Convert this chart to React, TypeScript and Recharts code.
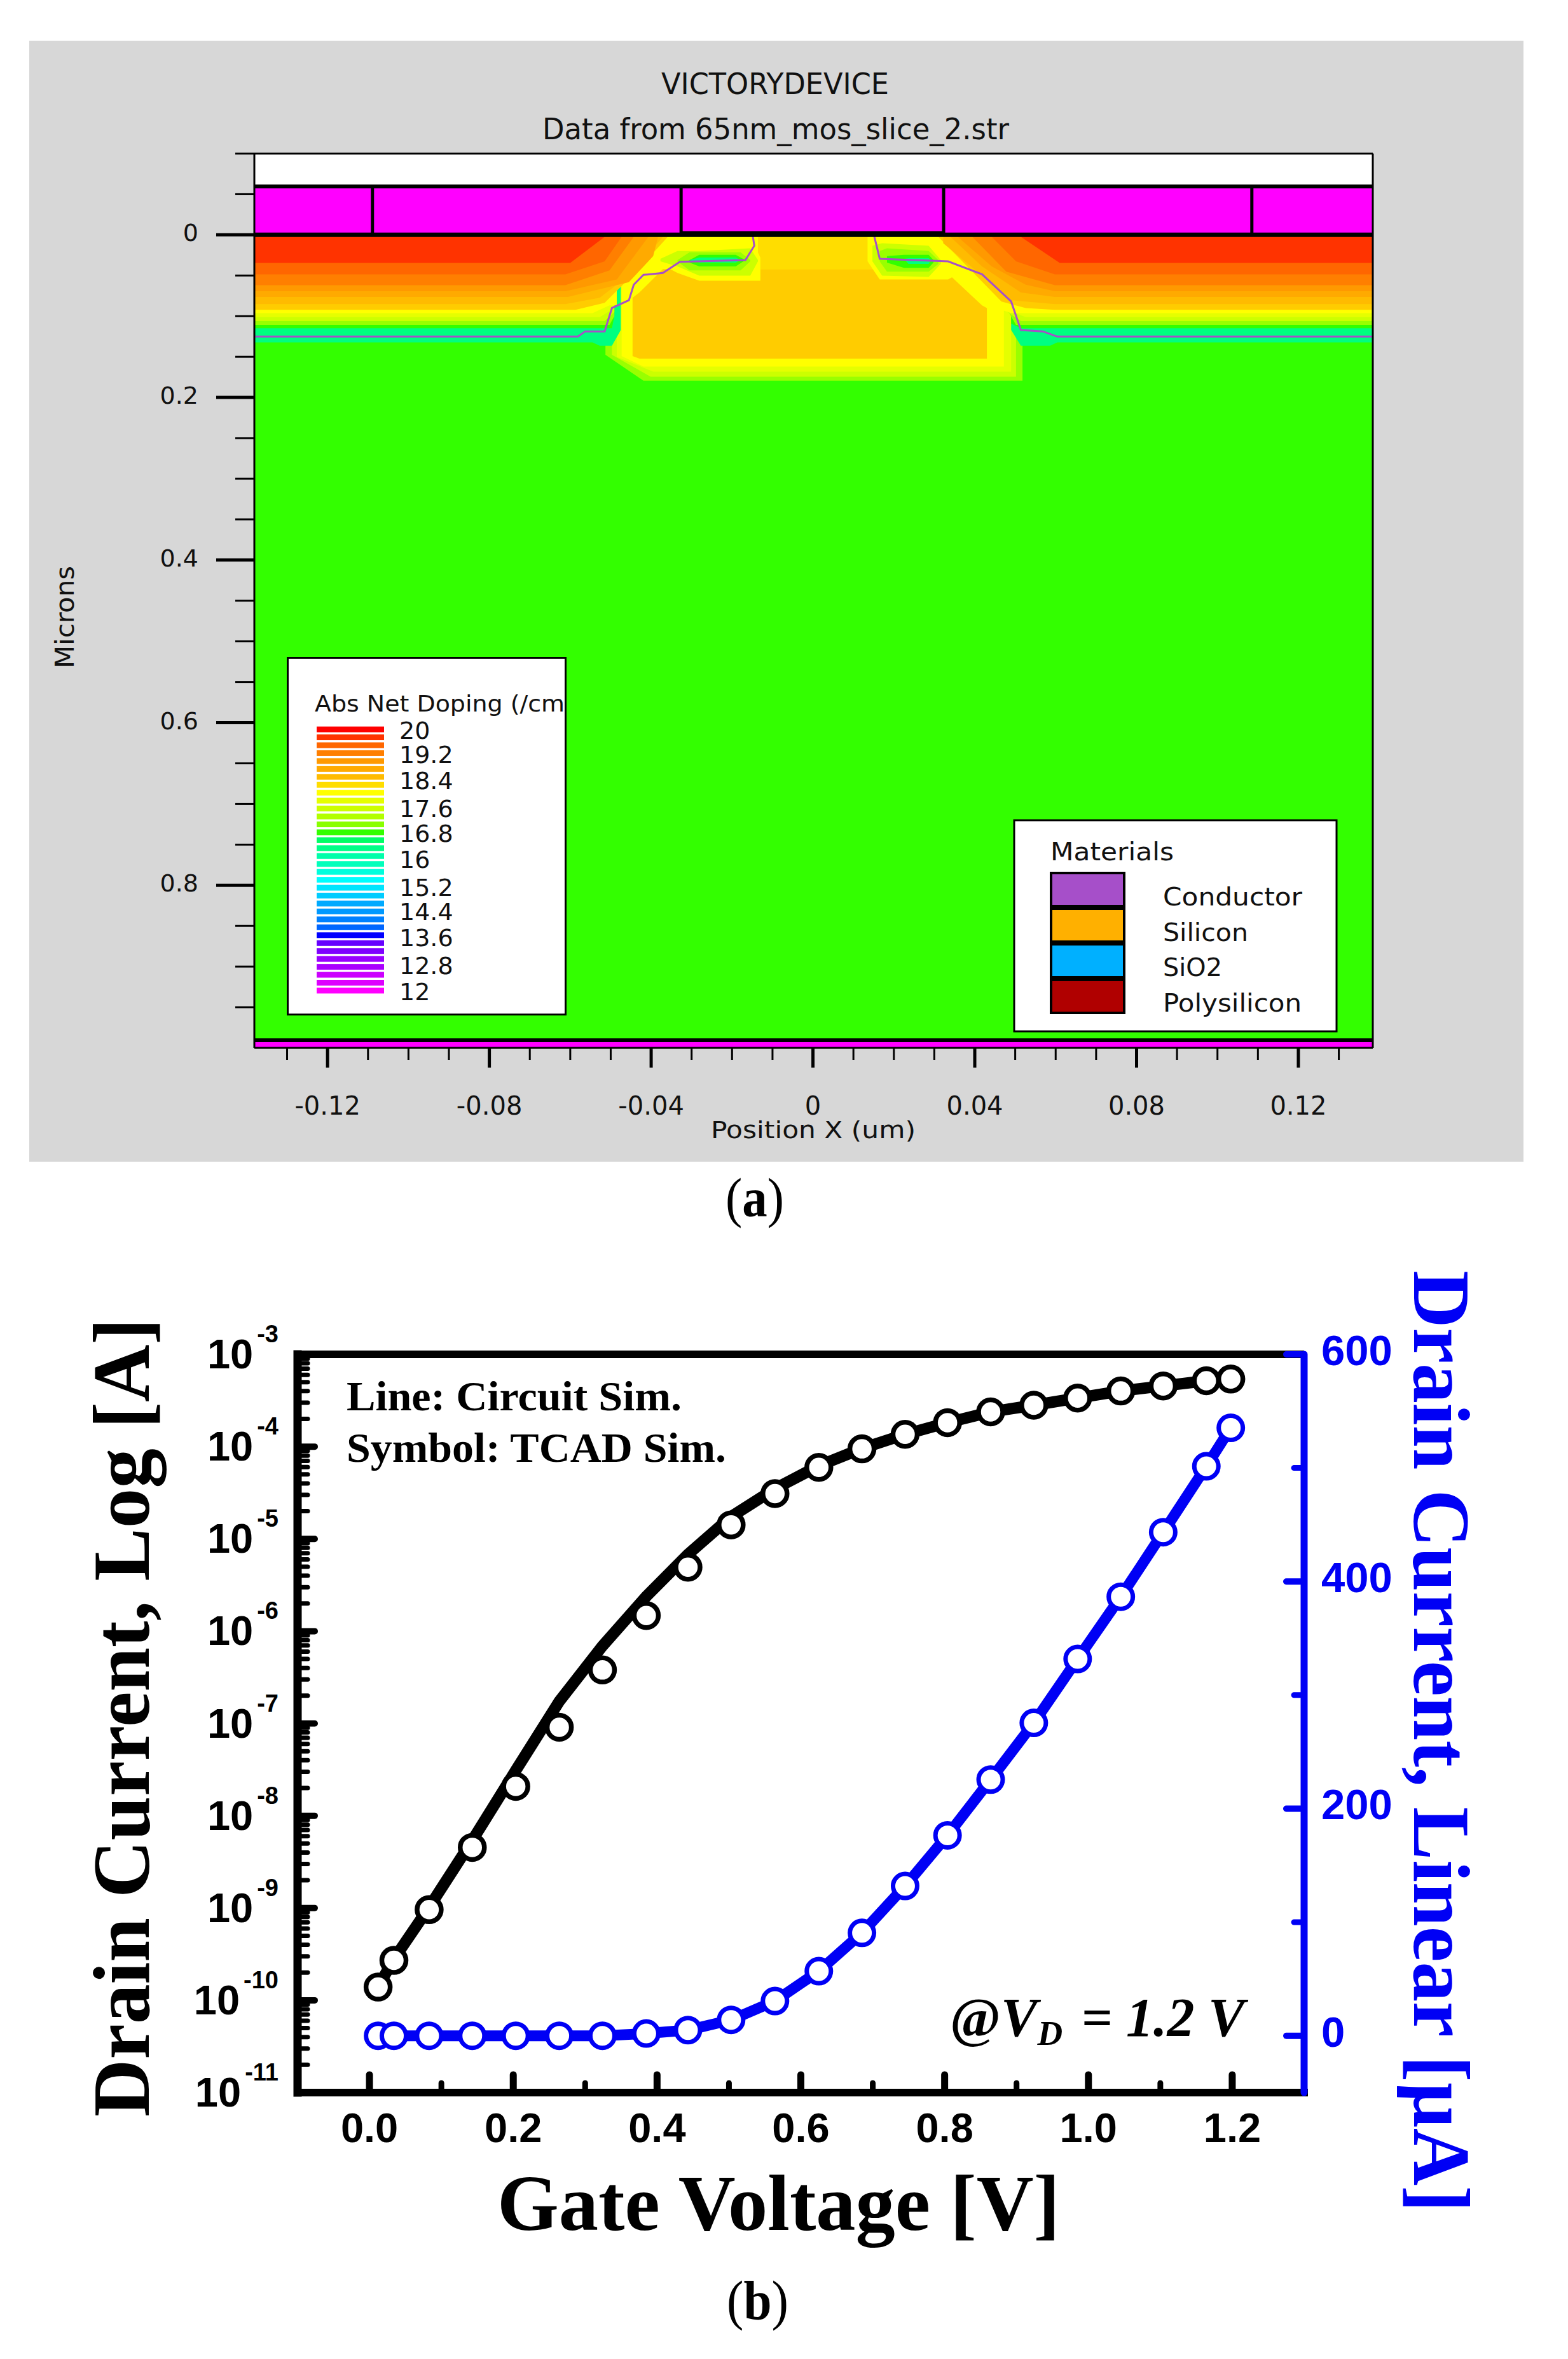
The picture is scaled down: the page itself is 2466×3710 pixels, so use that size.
import React from 'react';
import { ComposedChart, Area, Line, XAxis, YAxis, ReferenceArea, ReferenceLine } from 'recharts';

// ---- (a) doping map: contour bands as [x um, upper depth um, lower depth um]
type Pt = [number, number, number];
const S = 0.0025; // just under the oxide
const XL = -0.1381;
const XR = 0.1384;

const haloColors = ['#33ff00', '#99ff00', '#ccff00', '#e5ff00', '#ffff00'];
const haloBands: Pt[][] = [
  [[XL, 0, 0.99], [XR, 0, 0.99]],
  [[-0.0513, S, 0.1475], [-0.0419, S, 0.1794], [0.0518, S, 0.1794]],
  [[-0.0497, S, 0.1475], [-0.0401, S, 0.1746], [0.0502, S, 0.1746]],
  [[-0.0485, S, 0.15], [-0.0395, S, 0.1683], [0.049, S, 0.1683]],
  [[-0.0473, S, 0.1491], [-0.0419, S, 0.1619], [0.0472, S, 0.1619]],
];

const sourceColors = ['#00ff80', '#33ff00', '#99ff00', '#ccff00', '#e5ff00', '#ffff00', '#ffcc00', '#ffbb00', '#ffaa00', '#ff9900', '#ff7f00', '#ff6600', '#ff3300'];
const sourceBands: Pt[][] = [
  [[XL, S, 0.1322], [-0.0545, S, 0.1322], [-0.0527, S, 0.1363], [-0.0497, S, 0.1363], [-0.0475, S, 0.1171], [-0.0475, S, 0.1]],
  [[XL, S, 0.1149], [-0.0497, S, 0.1149], [-0.0491, S, 0.1]],
  [[XL, S, 0.1108], [-0.0503, S, 0.1108], [-0.0491, S, 0.1]],
  [[XL, S, 0.106], [-0.0515, S, 0.106], [-0.0491, S, 0.095]],
  [[XL, S, 0.1012], [-0.0527, S, 0.1012], [-0.0491, S, 0.09]],
  [[XL, S, 0.0964], [-0.0545, S, 0.0964], [-0.0503, S, 0.0868], [-0.0485, S, 0.0868]],
  [[XL, S, 0.0922], [-0.0587, S, 0.0922], [-0.0515, S, 0.0836], [-0.0431, S, 0.0421], [-0.0359, S, S]],
  [[XL, S, 0.0852], [-0.0612, S, 0.0852], [-0.0527, S, 0.0773], [-0.0443, S, 0.0453], [-0.0371, S, S]],
  [[XL, S, 0.0763], [-0.0606, S, 0.0763], [-0.0455, S, 0.0581], [-0.0395, S, 0.0262], [-0.0383, S, S]],
  [[XL, S, 0.0693], [-0.0612, S, 0.0693], [-0.0485, S, 0.0549], [-0.0407, S, S]],
  [[XL, S, 0.0619], [-0.0612, S, 0.0619], [-0.0503, S, 0.0437], [-0.0443, S, S]],
  [[XL, S, 0.0485], [-0.0612, S, 0.0485], [-0.0515, S, 0.0326], [-0.0473, S, S]],
  [[XL, S, 0.0345], [-0.06, S, 0.0345], [-0.0515, S, S]],
];
const drainBands: Pt[][] = [
  [[0.049, S, 0.1171], [0.0514, S, 0.1363], [0.0586, S, 0.1363], [0.0604, S, 0.1322], [XR, S, 0.1322]],
  [[0.049, S, 0.1092], [0.0514, S, 0.1149], [XR, S, 0.1149]],
  [[0.0478, S, 0.09], [0.0502, S, 0.1108], [XR, S, 0.1108]],
  [[0.0466, S, 0.09], [0.0514, S, 0.106], [XR, S, 0.106]],
  [[0.0454, S, 0.088], [0.0526, S, 0.1012], [XR, S, 0.1012]],
  [[0.0436, S, 0.09], [0.0454, S, 0.09], [0.049, S, 0.0964], [XR, S, 0.0964]],
  [[0.031, S, S], [0.0394, S, 0.0453], [0.0466, S, 0.082], [0.0526, S, 0.09], [0.0598, S, 0.0922], [XR, S, 0.0922]],
  [[0.0322, S, 0.0102], [0.0406, S, 0.0453], [0.049, S, 0.0804], [0.0598, S, 0.0852], [XR, S, 0.0852]],
  [[0.034, S, S], [0.0418, S, 0.0389], [0.0514, S, 0.0709], [0.0598, S, 0.0763], [XR, S, 0.0763]],
  [[0.0358, S, S], [0.0442, S, 0.0389], [0.0526, S, 0.0613], [0.0598, S, 0.0693], [XR, S, 0.0693]],
  [[0.0394, S, S], [0.0478, S, 0.0453], [0.0598, S, 0.0619], [XR, S, 0.0619]],
  [[0.0442, S, S], [0.0502, S, 0.0326], [0.0598, S, 0.0485], [XR, S, 0.0485]],
  [[0.0514, S, S], [0.061, S, 0.0345], [XR, S, 0.0345]],
];

const channelColors = ['#ffcc00', '#ffdd00'];
const channelBands: Pt[][] = [
  [[-0.0446, 0.0773, 0.1491], [-0.0429, 0.0709, 0.1523], [-0.0371, 0.0421, 0.1523], [0.0322, 0.0421, 0.1523], [0.0418, 0.0868, 0.1523], [0.043, 0.09, 0.1523]],
  [[-0.0136, S, 0.0421], [0.0147, S, 0.0421]],
];

const pocketColors = ['#ffff00', '#ccff00', '#99ff00', '#33ff00', '#00ff80'];
const pocketLeft: Pt[][] = [
  [[-0.0389, 0.0294, 0.0326], [-0.0335, 0.0134, 0.0469], [-0.0281, 0.0102, 0.0565], [-0.0155, S, 0.0565], [-0.013, 0.0278, 0.0565]],
  [[-0.0377, 0.0294, 0.0326], [-0.0335, 0.0198, 0.0389], [-0.0281, 0.0198, 0.0501], [-0.0155, 0.0166, 0.0501], [-0.0136, 0.031, 0.0326]],
  [[-0.0335, 0.031, 0.0326], [-0.0305, 0.0214, 0.0437], [-0.0179, 0.0214, 0.0437], [-0.0155, 0.031, 0.0326]],
  [[-0.0311, 0.0326, 0.033], [-0.0281, 0.0246, 0.0389], [-0.0191, 0.0246, 0.0389], [-0.0167, 0.031, 0.031]],
  [[-0.0305, 0.031, 0.031], [-0.0281, 0.0278, 0.0342], [-0.0191, 0.0278, 0.0342], [-0.0179, 0.031, 0.031]],
];
const pocketRight: Pt[][] = [
  [[0.0135, S, 0.0326], [0.0165, S, 0.0549], [0.0286, S, 0.0549], [0.0334, 0.0326, 0.0549], [0.0352, 0.0469, 0.05]],
  [[0.0147, 0.0134, 0.0326], [0.0171, 0.0102, 0.0501], [0.0286, 0.0134, 0.0517], [0.0316, 0.031, 0.0357]],
  [[0.0165, 0.0198, 0.0326], [0.0183, 0.0166, 0.0453], [0.0286, 0.0198, 0.0453], [0.031, 0.031, 0.0357]],
  [[0.0183, 0.0262, 0.0342], [0.0225, 0.0246, 0.0405], [0.0286, 0.0246, 0.0405], [0.0298, 0.031, 0.034]],
  [[0.0225, 0.0294, 0.0294], [0.0236, 0.0287, 0.0357], [0.0286, 0.0287, 0.0357], [0.0292, 0.031, 0.031]],
];

const junctionLeft = [[XL, 0.1251], [-0.0581, 0.1251], [-0.0563, 0.1187], [-0.0515, 0.1187], [-0.0497, 0.09], [-0.0455, 0.0804], [-0.0443, 0.0613], [-0.0419, 0.0492], [-0.0371, 0.0469], [-0.0329, 0.0332], [-0.0167, 0.031], [-0.0145, 0.0134], [-0.0149, 0.0006]];
const junctionRight = [[0.0151, 0.0006], [0.0165, 0.0294], [0.0334, 0.0326], [0.0418, 0.0485], [0.049, 0.082], [0.0514, 0.1171], [0.0568, 0.1187], [0.0604, 0.1251], [XR, 0.1251]];

const contactEdges = [-0.1089, -0.0326, 0.0323, 0.1085];
const mapXTicks = [-0.13, -0.12, -0.11, -0.1, -0.09, -0.08, -0.07, -0.06, -0.05, -0.04, -0.03, -0.02, -0.01, 0, 0.01, 0.02, 0.03, 0.04, 0.05, 0.06, 0.07, 0.08, 0.09, 0.1, 0.11, 0.12, 0.13];
const mapXLabels: Record<string, string> = { '-0.12': '-0.12', '-0.08': '-0.08', '-0.04': '-0.04', '0': '0', '0.04': '0.04', '0.08': '0.08', '0.12': '0.12' };
const mapYTicks = [-0.1, -0.05, 0, 0.05, 0.1, 0.15, 0.2, 0.25, 0.3, 0.35, 0.4, 0.45, 0.5, 0.55, 0.6, 0.65, 0.7, 0.75, 0.8, 0.85, 0.9, 0.95];
const mapYLabels: Record<string, string> = { '0': '0', '0.2': '0.2', '0.4': '0.4', '0.6': '0.6', '0.8': '0.8' };

const dopingSwatches = ['#ff0000', '#ff3300', '#ff6600', '#ff7f00', '#ff9900', '#ffaa00', '#ffbb00', '#ffdd00', '#ffff00', '#e5ff00', '#ccff00', '#b2ff00', '#88ff00', '#33ff00', '#00ff66', '#00ff88', '#00ffaa', '#00ffbb', '#00ffdd', '#00ffff', '#00e5ff', '#00ccff', '#00aaff', '#0099ff', '#0080ff', '#0066ff', '#0000ff', '#6600ff', '#7f00ff', '#9900ff', '#aa00ff', '#cc00ff', '#dd00ff', '#ff00ff'];
const dopingLabels = ['20', '19.2', '18.4', '17.6', '16.8', '16', '15.2', '14.4', '13.6', '12.8', '12'];
const dopingLabelY = [1162, 1200, 1241, 1285, 1324, 1365, 1409, 1447, 1488, 1532, 1573];
const materialNames = ['Conductor', 'Silicon', 'SiO2', 'Polysilicon'];
const materialWidths = [219, 134, 93, 218];
const materialColors = ['#a64fc9', '#ffb000', '#00b0ff', '#b00000'];

// ---- (b) transfer curves
const gateV = [0.012, 0.034, 0.083, 0.143, 0.2035, 0.264, 0.324, 0.385, 0.443, 0.503, 0.564, 0.625, 0.685, 0.745, 0.804, 0.864, 0.924, 0.985, 1.045, 1.104, 1.164, 1.198];
const logTcad = [1.39e-10, 2.71e-10, 9.6e-10, 4.54e-9, 2.08e-8, 9.1e-8, 3.8e-7, 1.48e-6, 4.94e-6, 1.42e-5, 3.1e-5, 5.96e-5, 9.46e-5, 1.36e-4, 1.82e-4, 2.38e-4, 2.81e-4, 3.36e-4, 4.01e-4, 4.55e-4, 5.18e-4, 5.4e-4];
const logCircuit = [1.4e-10, 2.8e-10, 1.02e-9, 5.4e-9, 3.1e-8, 1.74e-7, 6.9e-7, 2.38e-6, 6.8e-6, 1.74e-5, 3.5e-5, 6.2e-5, 9.55e-5, 1.36e-4, 1.82e-4, 2.38e-4, 2.81e-4, 3.36e-4, 4.01e-4, 4.55e-4, 5.18e-4, 5.4e-4];
const linTcad = [0, 0, 0, 0, 0, 0, 0, 2, 5, 14, 30.6, 56.9, 90.6, 131.9, 176.5, 225.6, 275.5, 331.8, 386.6, 443.4, 501.4, 535.3];
const linCircuit = [0, 0, 0, 0, 0, 0, 0, 2, 5, 14, 30.6, 56.9, 90.6, 131.9, 176.5, 225.6, 275.5, 331.8, 386.6, 443.4, 501.4, 535.3];

const gateTicks = [0, 0.1, 0.2, 0.3, 0.4, 0.5, 0.6, 0.7, 0.8, 0.9, 1, 1.1, 1.2];
const gateLabels: Record<string, string> = { '0': '0.0', '0.2': '0.2', '0.4': '0.4', '0.6': '0.6', '0.8': '0.8', '1': '1.0', '1.2': '1.2' };
const decades = [-11, -10, -9, -8, -7, -6, -5, -4];
const logMajor = [...decades, -3].map((e) => Number(`1e${e}`));
const logMinor = decades.flatMap((e) => [2, 3, 4, 5, 6, 7, 8, 9].map((m) => Number(`${m}e${e}`)));
const linTicks = [0, 100, 200, 300, 400, 500, 600];

const curveRows = gateV.map((v, i) => ({ v, logTcad: logTcad[i], logCircuit: logCircuit[i], linTcad: linTcad[i], linCircuit: linCircuit[i] }));

const SANS = '"DejaVu Sans", sans-serif';
const SERIF = '"Liberation Serif", serif';
const ARIAL = '"Liberation Sans", sans-serif';
const BLUE = '#0000f5';

const toRows = (pts: Pt[]) => pts.map(([x, lo, hi]) => ({ x, band: [lo, hi] }));
const toLine = (pts: number[][]) => pts.map(([x, d]) => ({ x, d }));

const bandArea = (pts: Pt[], color: string, key: string) => (
  <Area key={key} data={toRows(pts)} dataKey="band" type="linear" fill={color} fillOpacity={1} stroke="none" dot={false} activeDot={false} isAnimationActive={false} />
);

const MapXTick = ({ x, y, payload }: any) => {
  const label = mapXLabels[String(payload.value)];
  return (
    <g>
      <line x1={x} x2={x} y1={y} y2={y + (label ? 31 : 19)} stroke="#000" strokeWidth={label ? 5 : 3} />
      {label && <text x={x} y={y + 105} textAnchor="middle" fontFamily={SANS} fontSize={40} fill="#111">{label}</text>}
    </g>
  );
};

const MapYTick = ({ x, y, payload }: any) => {
  const label = mapYLabels[String(payload.value)];
  return (
    <g>
      <line x1={x - (label ? 60 : 30)} x2={x} y1={y} y2={y} stroke="#000" strokeWidth={label ? 5 : 3} />
      {label && <text x={x - 88} y={y + 10} textAnchor="end" fontFamily={SANS} fontSize={38} fill="#111">{label}</text>}
    </g>
  );
};

const GateTick = ({ x, y, payload }: any) => {
  const label = gateLabels[String(payload.value)];
  return (
    <g>
      <line x1={x} x2={x} y1={y - 6} y2={y - (label ? 28 : 15)} stroke="#000" strokeWidth={label ? 11 : 9} strokeLinecap="round" />
      {label && <text x={x} y={y + 78} textAnchor="middle" fontFamily={ARIAL} fontWeight={700} fontSize={65} fill="#000">{label}</text>}
    </g>
  );
};

const LogTick = ({ x, y, payload }: any) => {
  const exp = Math.log10(payload.value);
  const major = Math.abs(exp - Math.round(exp)) < 1e-6;
  return (
    <g>
      <line x1={x + 6} x2={x + (major ? 27 : 16)} y1={y} y2={y} stroke="#000" strokeWidth={major ? 10 : 7} strokeLinecap="round" />
      {major && (
        <text x={x - 30} y={y + 22} textAnchor="end" fontFamily={ARIAL} fontWeight={700} fontSize={65} fill="#000">
          10<tspan dx={6} dy={-41} fontSize={38}>{Math.round(exp)}</tspan>
        </text>
      )}
    </g>
  );
};

const LinTick = ({ x, y, payload }: any) => {
  const major = payload.value % 200 === 0;
  return (
    <g>
      <line x1={x - 5} x2={x - (major ? 28 : 16)} y1={y} y2={y} stroke={BLUE} strokeWidth={major ? 10 : 9} strokeLinecap="round" />
      {major && <text x={x + 27} y={y + 17} fontFamily={ARIAL} fontWeight={700} fontSize={67} fill={BLUE}>{payload.value}</text>}
    </g>
  );
};

function DopingMap() {
  return (
    <ComposedChart width={2350} height={1763} margin={{ top: 177.5, right: 237, bottom: 0, left: 0 }} style={{ position: 'absolute', left: 46, top: 64 }}>
      <XAxis type="number" dataKey="x" domain={[XL, XR]} ticks={mapXTicks} interval={0} height={179} allowDataOverflow tickSize={0} tickMargin={0} tick={MapXTick} axisLine={{ stroke: '#000', strokeWidth: 3 }} />
      <YAxis type="number" reversed domain={[-0.1, 1]} ticks={mapYTicks} interval={0} width={354} allowDataOverflow tickSize={0} tickMargin={0} tick={MapYTick} axisLine={{ stroke: '#000', strokeWidth: 3 }} />
      <ReferenceArea x1={XL} x2={XR} y1={-0.1} y2={-0.0595} fill="#fff" fillOpacity={1} stroke="none" />
      <ReferenceArea x1={XL} x2={XR} y1={-0.0595} y2={0} fill="#ff00ff" fillOpacity={1} stroke="none" />
      <ReferenceArea x1={XL} x2={XR} y1={0.99} y2={1} fill="#ff00ff" fillOpacity={1} stroke="none" />
      {haloBands.map((b, i) => bandArea(b, haloColors[i], `halo${i}`))}
      {sourceBands.map((b, i) => bandArea(b, sourceColors[i], `src${i}`))}
      {drainBands.map((b, i) => bandArea(b, sourceColors[i], `drn${i}`))}
      {channelBands.map((b, i) => bandArea(b, channelColors[i], `ch${i}`))}
      {pocketLeft.map((b, i) => bandArea(b, pocketColors[i], `pl${i}`))}
      {pocketRight.map((b, i) => bandArea(b, pocketColors[i], `pr${i}`))}
      <Line data={toLine(junctionLeft)} dataKey="d" stroke="#a64fc9" strokeWidth={3} dot={false} activeDot={false} isAnimationActive={false} />
      <Line data={toLine(junctionRight)} dataKey="d" stroke="#a64fc9" strokeWidth={3} dot={false} activeDot={false} isAnimationActive={false} />
      <ReferenceLine y={-0.0595} stroke="#000" strokeWidth={6} />
      <ReferenceLine y={0} stroke="#000" strokeWidth={7} />
      <ReferenceLine segment={[{ x: -0.0326, y: -0.003 }, { x: 0.0323, y: -0.003 }]} stroke="#000" strokeWidth={4} />
      <ReferenceLine y={0.9907} stroke="#000" strokeWidth={6} />
      <ReferenceLine y={-0.1} stroke="#000" strokeWidth={3} />
      <ReferenceLine x={XR} stroke="#000" strokeWidth={3} />
      {contactEdges.map((x) => (
        <ReferenceLine key={x} segment={[{ x, y: -0.0595 }, { x, y: 0 }]} stroke="#000" strokeWidth={5} />
      ))}
    </ComposedChart>
  );
}

function TransferCurves() {
  return (
    <ComposedChart width={2466} height={1600} data={curveRows} margin={{ top: 130, right: 0, bottom: 0, left: 0 }} style={{ position: 'absolute', left: 0, top: 2000 }}>
      <XAxis type="number" dataKey="v" domain={[-0.1, 1.3]} ticks={gateTicks} interval={0} height={309} allowDataOverflow tickSize={0} tickMargin={0} tick={GateTick} axisLine={{ stroke: '#000', strokeWidth: 12, strokeLinecap: 'square' }} />
      <YAxis yAxisId="log" scale="log" type="number" domain={[1e-11, 1e-3]} ticks={[...logMajor, ...logMinor]} interval={0} width={468} allowDataOverflow tickSize={0} tickMargin={0} tick={LogTick} axisLine={{ stroke: '#000', strokeWidth: 13, strokeLinecap: 'square' }} />
      <YAxis yAxisId="lin" orientation="right" type="number" domain={[-50, 600]} ticks={linTicks} interval={0} width={415} allowDataOverflow tickSize={0} tickMargin={0} tick={LinTick} axisLine={{ stroke: BLUE, strokeWidth: 11, strokeLinecap: 'round' }} />
      <ReferenceLine yAxisId="log" y={1e-3} stroke="#000" strokeWidth={12} />
      <Line yAxisId="log" dataKey="logCircuit" stroke="#000" strokeWidth={18} dot={false} activeDot={false} isAnimationActive={false} />
      <Line yAxisId="lin" dataKey="linCircuit" stroke={BLUE} strokeWidth={17} dot={false} activeDot={false} isAnimationActive={false} />
      <Line yAxisId="log" dataKey="logTcad" stroke="none" dot={{ r: 19, fill: '#fff', stroke: '#000', strokeWidth: 7.5 }} activeDot={false} isAnimationActive={false} />
      <Line yAxisId="lin" dataKey="linTcad" stroke="none" dot={{ r: 19, fill: '#fff', stroke: BLUE, strokeWidth: 7 }} activeDot={false} isAnimationActive={false} />
    </ComposedChart>
  );
}

export default function App() {
  const fit = { lengthAdjust: 'spacingAndGlyphs' as const };
  return (
    <div style={{ position: 'absolute', left: 0, top: 0, width: 2466, height: 3710, background: '#fff', overflow: 'hidden' }}>
      <div style={{ position: 'absolute', left: 46, top: 64, width: 2350, height: 1763, background: '#d7d7d7' }} />
      <DopingMap />
      <TransferCurves />
      <svg width={2466} height={3710} style={{ position: 'absolute', left: 0, top: 0, pointerEvents: 'none' }}>
        <g fontFamily={SANS} fill="#111">
          <text x={1040} y={148} fontSize={46} textLength={358} {...fit}>VICTORYDEVICE</text>
          <text x={853} y={219} fontSize={46} textLength={734} {...fit}>Data from 65nm_mos_slice_2.str</text>
          <text x={116} y={1051} fontSize={40} textLength={161} {...fit} transform="rotate(-90 116 1051)">Microns</text>
          <text x={1118} y={1790} fontSize={38} textLength={322} {...fit}>Position X (um)</text>

          <rect x={452.5} y={1034.5} width={437} height={561} fill="#fff" stroke="#000" strokeWidth={3} />
          <text x={495} y={1119} fontSize={36} textLength={393} {...fit}>Abs Net Doping (/cm</text>
          {dopingSwatches.map((c, i) => (
            <rect key={c} x={498} y={1142.6 + i * 12.45} width={106} height={9} fill={c} />
          ))}
          {dopingLabels.map((t, i) => (
            <text key={t} x={628} y={dopingLabelY[i]} fontSize={38}>{t}</text>
          ))}

          <rect x={1595} y={1290} width={507} height={332} fill="#fff" stroke="#000" strokeWidth={3} />
          <text x={1652} y={1353} fontSize={39} textLength={194} {...fit}>Materials</text>
          {materialColors.map((c, i) => (
            <rect key={c} x={1653} y={1373 + i * 56} width={115} height={52} fill={c} stroke="#000" strokeWidth={4} />
          ))}
          {materialNames.map((t, i) => (
            <text key={t} x={1829} y={1424 + i * 55.6} fontSize={39} textLength={materialWidths[i]} {...fit}>{t}</text>
          ))}
        </g>

        <g fontFamily={SERIF} fontWeight={700} fill="#000">
          <text x={234} y={3329} fontSize={128} textLength={1256} {...fit} transform="rotate(-90 234 3329)">Drain Current, Log [A]</text>
          <text x={2224} y={1998} fontSize={128} textLength={1481} {...fit} fill={BLUE} transform="rotate(90 2224 1998)">Drain Current, Linear [µA]</text>
          <text x={782} y={3507} fontSize={125} textLength={885} {...fit}>Gate Voltage [V]</text>
          <text x={545} y={2218} fontSize={66} textLength={527} {...fit}>Line: Circuit Sim.</text>
          <text x={545} y={2299} fontSize={66} textLength={597} {...fit}>Symbol: TCAD Sim.</text>
          <text x={1494} y={3202} fontSize={86} fontStyle="italic">
            <tspan fontStyle="normal">@</tspan>V<tspan fontSize={55} dy={14}>D</tspan>
            <tspan dy={-14} dx={8}> = 1.2 V</tspan>
          </text>
          <text x={1141} y={1913} fontSize={86} fontWeight={400} textLength={92} {...fit}>(<tspan fontWeight={700}>a</tspan>)</text>
          <text x={1143} y={3647} fontSize={86} fontWeight={400} textLength={97} {...fit}>(<tspan fontWeight={700}>b</tspan>)</text>
        </g>
      </svg>
    </div>
  );
}
